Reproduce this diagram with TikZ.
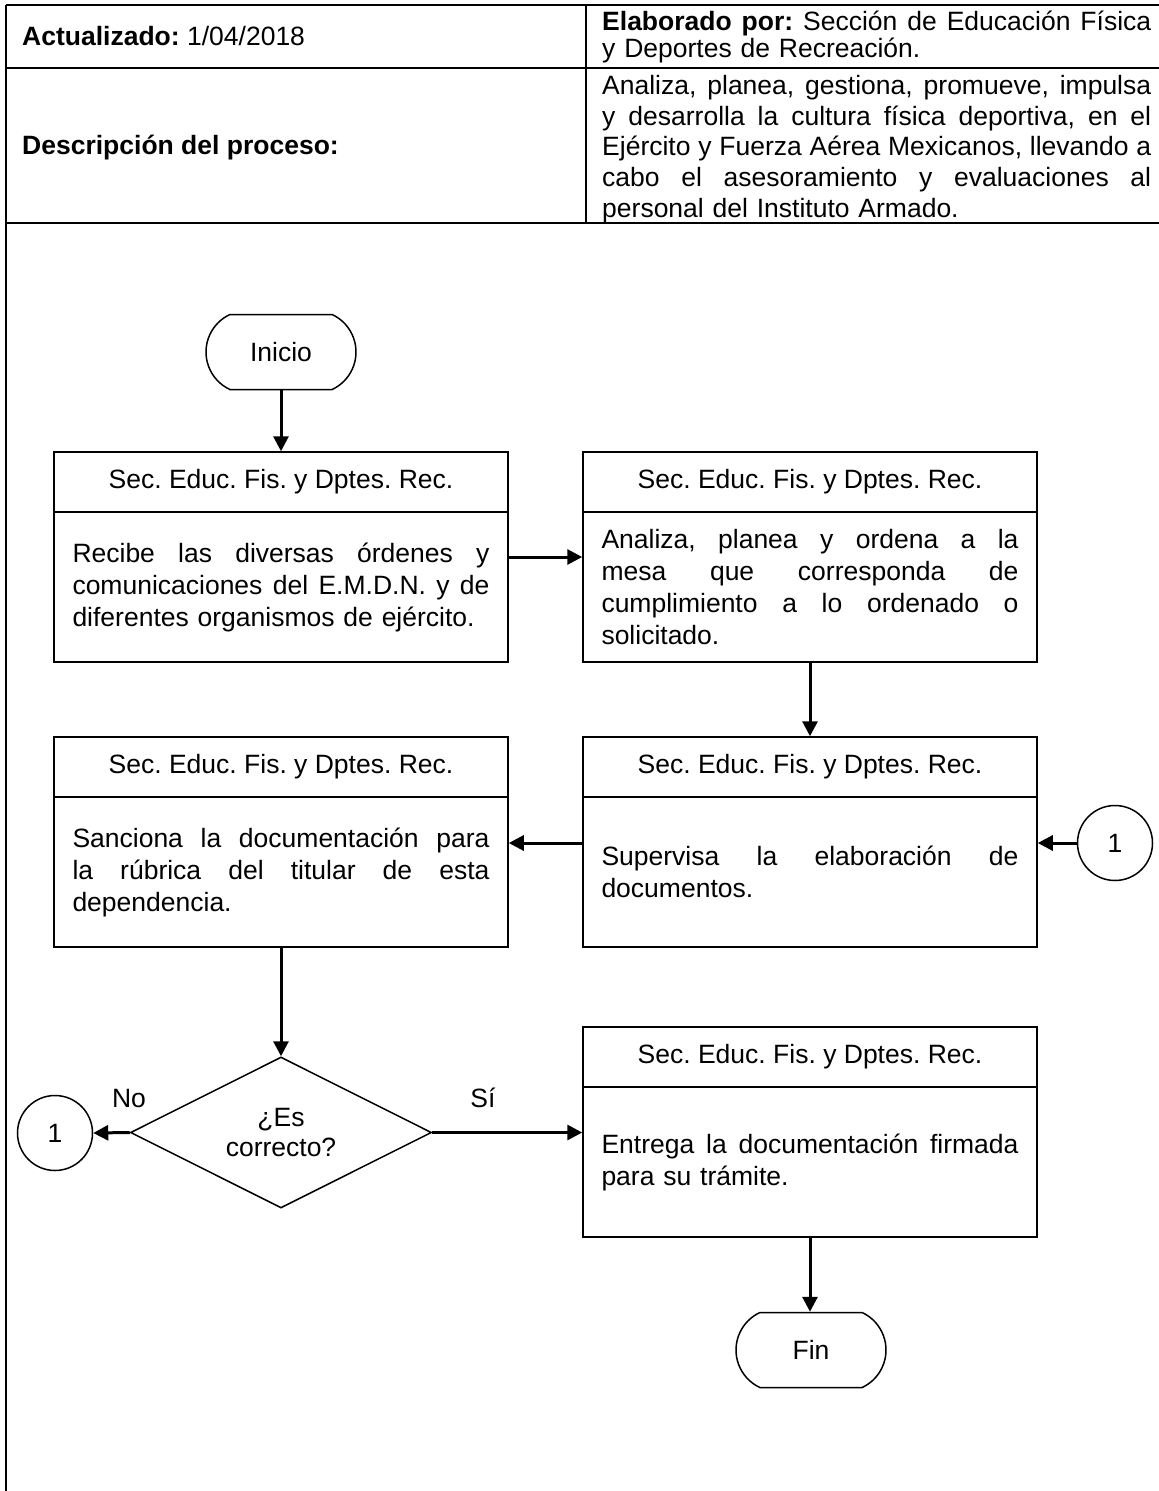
\documentclass[tikz,border=0pt]{standalone}
\usepackage{fontspec}
\setmainfont{Liberation Sans}
\usetikzlibrary{shapes.geometric,shapes.misc,arrows.meta}
\newcommand\jline[2]{\makebox[#1][s]{\frenchspacing\spaceskip=.278em plus 1fil\xspaceskip=\spaceskip #2}}
\newcommand\jb[1]{\jline{417pt}{#1}}
\newcommand\jt[1]{\jline{549pt}{#1}}
\begin{document}
\frenchspacing
\begin{tikzpicture}[x=1pt,y=-1pt,
  every node/.style={font=\fontsize{26.5}{32}\selectfont, inner sep=0pt},
  hdr/.style={draw, line width=1.5pt, minimum width=454pt, minimum height=60pt},
  bdy/.style={draw, line width=1.5pt, minimum width=454pt, minimum height=150pt, text width=417pt, execute at begin node=\noindent},
  para/.style={anchor=west, text width=549pt, execute at begin node=\noindent},
  term/.style={draw, line width=1.5pt, rounded rectangle, rounded rectangle arc length=130, minimum width=150pt, minimum height=75pt},
  conn/.style={draw, line width=1.5pt, circle, minimum size=75pt},
  dec/.style={draw, line width=1.5pt, diamond, aspect=2, minimum width=301pt, minimum height=151pt, align=center},
  arr/.style={line width=3pt, -{Triangle[length=15pt,width=15pt]}},
  tline/.style={line width=2pt},
]
\useasboundingbox (0,0) rectangle (1159,1491);
% header table
\draw[tline] (6,5) -- (1159,5);
\draw[tline] (6,68) -- (1159,68);
\draw[tline] (6,223) -- (1159,223);
\draw[tline] (6,5) -- (6,1491);
\draw[tline] (586,5) -- (586,223);
\node[anchor=west] (upd) at (22,36.5) {\textbf{Actualizado:} 1/04/2018};
\node[para, font=\fontsize{26.5}{27}\selectfont] (elab) at (602,37)
  {\jt{\textbf{Elaborado por:} Sección de Educación Física}\\y Deportes de Recreación.};
\node[anchor=west] (desc) at (22,148) {\textbf{Descripción del proceso:}};
\node[para, font=\fontsize{26.5}{30.8}\selectfont] (descr) at (602,149)
  {\jt{Analiza, planea, gestiona, promueve, impulsa}\\\jt{y desarrolla la cultura física deportiva, en el}\\\jt{Ejército y Fuerza Aérea Mexicanos, llevando a}\\\jt{cabo el asesoramiento y evaluaciones al}\\personal del Instituto Armado.};
% flowchart
\node[term] (ini) at (281,352) {Inicio};
\node[hdr] (b1h) at (281,482) {Sec. Educ. Fis. y Dptes. Rec.};
\node[bdy] (b1b) at (281,587) {\jb{Recibe las diversas órdenes y}\\\jb{comunicaciones del E.M.D.N. y de}\\diferentes organismos de ejército.};
\node[hdr] (b2h) at (810,482) {Sec. Educ. Fis. y Dptes. Rec.};
\node[bdy] (b2b) at (810,587) {\jb{Analiza, planea y ordena a la}\\\jb{mesa que corresponda de}\\\jb{cumplimiento a lo ordenado o}\\solicitado.};
\node[hdr] (b3h) at (810,767) {Sec. Educ. Fis. y Dptes. Rec.};
\node[bdy] (b3b) at (810,872) {\jb{Supervisa la elaboración de}\\documentos.};
\node[hdr] (b4h) at (281,767) {Sec. Educ. Fis. y Dptes. Rec.};
\node[bdy] (b4b) at (281,872) {\jb{Sanciona la documentación para}\\\jb{la rúbrica del titular de esta}\\dependencia.};
\node[conn] (c1) at (1115,843) {1};
\node[dec, font=\fontsize{26.5}{30}\selectfont] (dq) at (281,1132.5) {¿Es\\correcto?};
\node[conn] (c2) at (55,1133) {1};
\node[hdr] (b5h) at (810,1057) {Sec. Educ. Fis. y Dptes. Rec.};
\node[bdy] (b5b) at (810,1162) {\jb{Entrega la documentación firmada}\\para su trámite.};
\node[term] (fin) at (811,1350) {Fin};
\node (no) at (129,1098) {No};
\node (si) at (483,1098) {Sí};
% connectors
\draw[arr] (ini.south) -- (b1h.north);
\draw[arr] ([yshift=30pt]b1b.east) -- ([yshift=30pt]b2b.west);
\draw[arr] (b2b.south) -- (b3h.north);
\draw[arr] ([yshift=29pt]b3b.west) -- ([yshift=29pt]b4b.east);
\draw[arr] (c1.west) -- (b3b.east |- c1.west);
\draw[arr] (b4b.south) -- (dq.north);
\draw[arr] (dq.west) -- (c2.east);
\draw[arr] (dq.east) -- (b5b.west |- dq.east);
\draw[arr] (b5b.south) -- (b5b.south |- fin.north);
\end{tikzpicture}
\end{document}
